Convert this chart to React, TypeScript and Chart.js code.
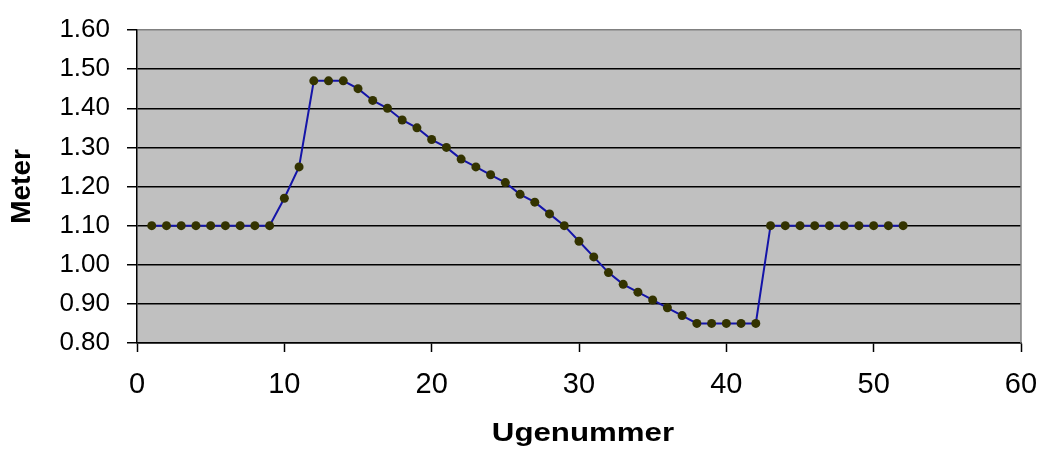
import React, { useEffect, useRef } from 'react';
import { Chart, registerables } from 'chart.js';

Chart.register(...registerables);

const weeks = [
  1, 2, 3, 4, 5, 6, 7, 8, 9, 10, 11, 12, 13, 14, 15, 16, 17, 18, 19, 20, 21, 22, 23, 24, 25, 26,
  27, 28, 29, 30, 31, 32, 33, 34, 35, 36, 37, 38, 39, 40, 41, 42, 43, 44, 45, 46, 47, 48, 49, 50, 51, 52,
];
const meters = [
  1.10, 1.10, 1.10, 1.10, 1.10, 1.10, 1.10, 1.10, 1.10, 1.17, 1.25, 1.47, 1.47, 1.47, 1.45, 1.42,
  1.40, 1.37, 1.35, 1.32, 1.30, 1.27, 1.25, 1.23, 1.21, 1.18, 1.16, 1.13, 1.10, 1.06, 1.02, 0.98,
  0.95, 0.93, 0.91, 0.89, 0.87, 0.85, 0.85, 0.85, 0.85, 0.85, 1.10, 1.10, 1.10, 1.10, 1.10, 1.10,
  1.10, 1.10, 1.10, 1.10,
];
const xTitle = 'Ugenummer';
const yTitle = 'Meter';
const xMin = 0;
const xMax = 60;
const xStep = 10;
const yMin = 0.8;
const yMax = 1.6;
const yStep = 0.1;

const FONT = '"Liberation Sans", Arial, sans-serif';

export default function App() {
  const ref = useRef<HTMLCanvasElement>(null);

  useEffect(() => {
    const canvas = ref.current;
    if (!canvas) return;

    const plotBg = {
      id: 'plotBg',
      beforeDraw(chart: any) {
        const { ctx, chartArea } = chart;
        const { left, top, right, bottom } = chartArea;
        ctx.save();
        ctx.fillStyle = '#C0C0C0';
        ctx.fillRect(left, top, right - left, bottom - top);
        ctx.restore();
      },
      beforeDatasetsDraw(chart: any) {
        const { ctx, chartArea } = chart;
        const { top, right, bottom } = chartArea;
        ctx.save();
        ctx.strokeStyle = '#808080';
        ctx.lineWidth = 1.5;
        ctx.beginPath();
        ctx.moveTo(right, top);
        ctx.lineTo(right, bottom);
        ctx.stroke();
        ctx.restore();
      },
      afterDraw(chart: any) {
        // x-axis title, drawn slightly widened like the original picture
        const { ctx, chartArea } = chart;
        const cx = (chartArea.left + chartArea.right) / 2 + 4;
        ctx.save();
        ctx.fillStyle = '#000';
        ctx.font = `bold 25px ${FONT}`;
        ctx.textAlign = 'center';
        ctx.textBaseline = 'alphabetic';
        ctx.translate(cx, 441);
        ctx.scale(1.25, 1);
        ctx.fillText(xTitle, 0, 0);
        ctx.restore();
      },
    };

    const chart = new Chart(canvas, {
      type: 'line',
      data: {
        datasets: [
          {
            data: weeks.map((w, i) => ({ x: w, y: meters[i] })),
            borderColor: '#1414A8',
            borderWidth: 2,
            pointBackgroundColor: '#333300',
            pointBorderColor: '#333300',
            pointRadius: 4.5,
            pointBorderWidth: 0,
            tension: 0,
          },
        ],
      },
      options: {
        animation: false,
        responsive: false,
        maintainAspectRatio: false,
        layout: { padding: { top: 15, right: 16, left: 0, bottom: 0 } },
        plugins: {
          legend: { display: false },
          tooltip: { enabled: false },
        },
        scales: {
          x: {
            type: 'linear',
            min: xMin,
            max: xMax,
            afterFit(scale: any) {
              scale.height = 110;
              scale.paddingRight = 0;
              scale.paddingLeft = 0;
            },
            ticks: {
              stepSize: xStep,
              color: '#000',
              font: { family: FONT, size: 29, lineHeight: 1 },
              padding: 18,
              maxRotation: 0,
            },
            grid: {
              drawOnChartArea: false,
              tickLength: 9,
              tickColor: '#000',
              tickWidth: 1.5,
            },
            border: { color: '#000', width: 1.5 },
            title: { display: false, text: xTitle },
          },
          y: {
            type: 'linear',
            min: yMin,
            max: yMax,
            afterFit(scale: any) {
              scale.width = 137;
            },
            ticks: {
              stepSize: yStep,
              color: '#000',
              font: { family: FONT, size: 26, lineHeight: 1 },
              padding: 17,
              callback: (v: any) => Number(v).toFixed(2),
            },
            grid: {
              color: (c: any) => (c.tick && Math.abs(c.tick.value - yMax) < 1e-6 ? '#808080' : '#000'),
              lineWidth: 1.5,
              tickLength: 10,
              tickColor: '#000',
              tickWidth: 1.5,
            },
            border: { color: '#000', width: 1.5 },
            title: {
              display: true,
              text: yTitle,
              color: '#000',
              font: { family: FONT, size: 28, weight: 'bold', lineHeight: 1 },
              padding: { top: 8, bottom: 0 },
            },
          },
        },
      },
      plugins: [plotBg],
    });

    return () => chart.destroy();
  }, []);

  return (
    <div style={{ position: 'absolute', left: 0, top: 0, width: 1037, height: 453, background: '#fff' }}>
      <canvas ref={ref} width={1037} height={453} style={{ display: 'block' }} />
    </div>
  );
}
